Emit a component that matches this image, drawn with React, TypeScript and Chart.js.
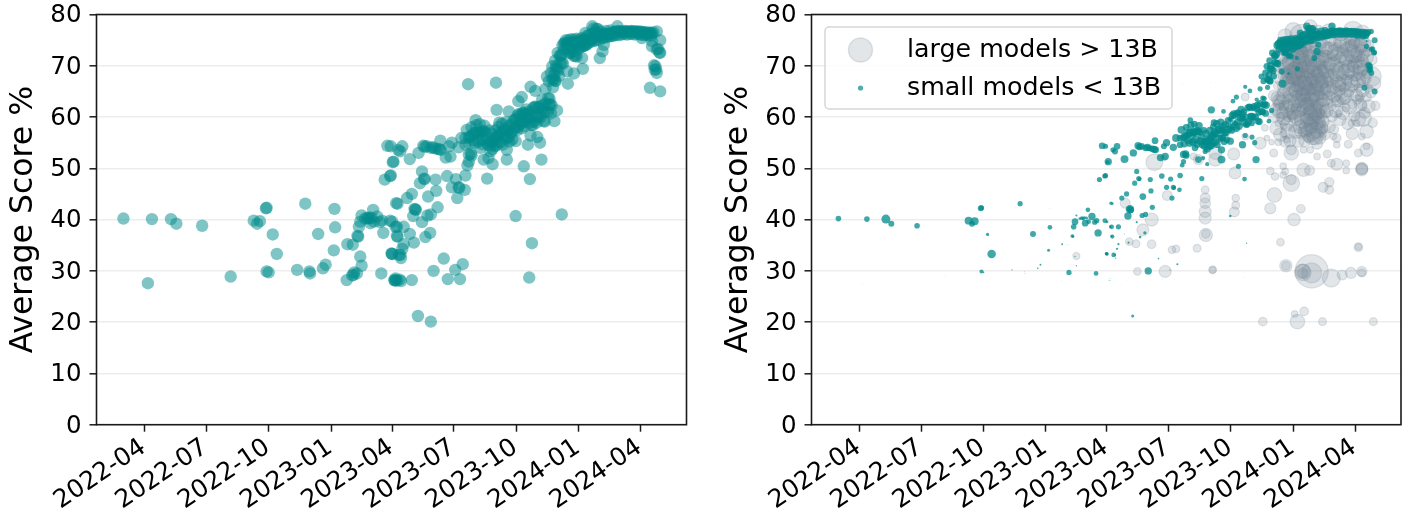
import React, { useEffect, useRef } from "react";
import { Chart, registerables } from "chart.js";

Chart.register(...registerables);

// Rows are [days since 2022-01-01, average score %, parameters in billions]
const earlyModels = [
  [59,40.2,3.5],[101,40.1,3.5],[129,40.1,9],[137,39.2,4],[175,38.8,3.5],[95,27.6,.03],[217,28.9,.03],[251,39.8,7],[260,39.7,7],[256,39.2,4],
  [269,42.2,4],[270,42.3,3],[279,37.1,1.2],[285,33.3,8],[270,29.9,1.8],[273,29.7,.3],[315,30.2,.2],[333,29.9,.05],[334,29.5,.05],[327,43.1,3],
  [370,42.1,.03],[371,38.5,2.5],[346,37.2,4],[369,34,1],[353,30.5,.3],[357,31.2,.4],[389,35.2,.4],[397,35.1,.05],[404,36.8,1.5],[405,36.7,.8],
  [408,32.8,.2],[410,31,.2],[403,29.5,.05],[398,29.2,.05],[399,29.7,3],[396,29.1,.03],[388,28.2,.03],[439,29.5,2.5],[458,28.2,.1],[459,28.1,.1],
  [460,28.5,.05],[454,33.4,1],[455,33.3,.8],[467,33.1,.5],[442,37.4,6],[462,36.8,.5],[406,38.6,3.5],[408,39.6,5],[427,41.9,2.5],[418,40.3,1.5],
  [420,40.2,1.5],[422,40.4,.8],[425,40.3,1],[415,40.2,.8],[423,39.3,5],[433,40.6,6],[428,39.6,2.5],[437,39.5,3],[440,39.8,3],[452,39.8,2.5],
  [460,38.6,.8],[461,43.2,1.2],[463,43.1,.8],[444,47.8,3],[452,48.5,3],[457,51.3,6],[456,51.2,2],[448,54.4,5],[464,53.6,3],[410,40.8,.5],
];

const rampModels = [
  [453,54.3,3],[470,54.3,5],[467,53.3,4],[481,51.8,7],[453,48.6,3],[477,44.2,3],[484,45,3],[489,42,8],[490,41.9,5],[488,42.1,3],
  [486,40.7,6],[499,39.5,.5],[512,41,3],[507,40.8,3],[522,42.4,3],[508,44.5,5],[520,45.6,3],[496,47.1,3],[499,49.4,3],[502,48,3],
  [503,47.9,2],[519,47.8,3],[536,48.5,3.5],[549,47.9,3],[563,48.6,3.5],[543,46.3,3],[553,46.3,3],[554,46.2,2],[562,45.8,2.5],[551,44.2,3],
  [455,39.6,1],[462,38.6,2.5],[472,38.6,3],[481,37.2,.1],[463,36.7,2],[504,36.6,.8],[511,37.4,1.2],[487,35.5,.6],[472,35.2,.6],[470,34.3,.6],
  [468,32.5,.2],[455,33.3,1.5],[465,33.1,2.5],[460,28.2,.02],[462,28.1,.02],[466,28.3,.02],[468,28,.02],[484,28.2,.02],[531,32.4,.3],[516,30,6],
  [559,31.3,.5],[548,30.2,.15],[537,28.4,.02],[555,28.4,.02],[493,21.2,1],[512,20.1,.02],[637,40.7,.8],[705,41,.02],[661,35.4,.2],[657,28.7,.02],
  [567,66.4,.02],[608,66.7,.02],[609,61.4,6],[578,59.4,3.5],
];

const lineModels = [
  [494,53,6],[501,54.4,6],[503,54.2,5],[506,54.3,5],[512,54,5],[515,54.1,6],[518,53.9,4],[522,53.8,5],[525,53.7,6],[527,53.6,5],
  [526,55.4,5],[534,52.1,6],[541,52.3,6],[539,54.3,4],[543,55,6],[553,54.1,6],[557,55.9,7],[563,54.6,5],[568,52.7,6],[571,52.8,6],
  [572,52.5,5],[568,51.3,3],[566,50.6,2.5],[590,51.7,5],[597,52,2],[603,50.8,2],[585,54,5],[600,53.3,3],[624,51.7,7],[624,53.6,6],
  [595,48,3],[649,50.4,3],[658,47.9,2.5],[675,51.7,6],[655,54.6,6],[673,55,3],[669,56.1,3],[659,56.4,3],[637,55.3,6],
];

const clusterModels = [
  [576,56.9,7],[578,57,7],[581,56.7,6],[583,57.1,7],[585,57,7],[588,57.3,7],[590,57.2,6],[592,57,5],[568,56,6],[570,56.2,7],
  [573,56.4,6],[563,55.9,5],[595,55.9,7],[600,55.2,6],[602,55.3,7],[605,55.5,7],[608,56,6],[610,56.2,7],[612,56.5,7],[614,57,7],
  [616,56.8,6],[620,57.5,7],[622,57.6,7],[625,57.3,6],[629,56.9,5],[631,57,6],[624,55.9,6],[626,56,5],[612,58.1,5],[627,61.1,2.5],
  [636,59.5,2],[638,59.6,3],[643,58.8,3],[645,58.7,2.5],[647,60.8,5],[649,60.9,4],[651,60.6,3],[652,59.8,6],[654,59.9,5],[656,59.7,4],
  [663,61.8,6],[666,61.9,5],[667,60.2,5],[669,60.1,6],[671,60,5],[660,58.5,4],[662,58.4,3],[678,59.2,5],[680,59.1,5],[694,59.2,2.5],
  [698,61.3,3],[686,62.4,5],[688,62.5,5],[690,62.3,6],[685,63.7,3],[687,63.6,3],[676,63.4,2],[681,65.5,3],[666,65.1,2.5],[659,65.9,2],
  [646,63.9,3],[641,63.1,2.5],[683,67.9,4],[691,67.4,5],[693,67.3,5],[695,67.1,6],[691,69.9,5],[696,69.4,6],[698,69.3,6],[700,69.1,6],
  [703,70.6,6],[705,70.5,5],[707,70.4,6],[702,72,5],[703,71.9,6],[705,72.2,6],[713,68.9,4],[723,68.5,1],[714,66.5,7],[736,69.4,3],[696,67,5],
];

const clusterSpread = [
  [565,57.5,7],[569,54.8,6],[572,58,5],[575,55.5,7],[577,54.9,6],[579,58.4,6],[582,55.2,7],[584,58.6,5],[586,55.6,7],[588,54.7,6],
  [591,58.3,6],[593,55.3,7],[596,54.6,6],[598,57.4,5],[599,54.4,7],[601,56.8,6],[603,53.8,6],[606,54.3,7],[607,57.4,6],[609,54.5,7],
  [611,55,7],[613,58.9,5],[615,55.1,6],[617,58.7,6],[618,54.6,5],[621,55.8,7],[623,59,6],[627,58.2,6],[628,55.2,5],[630,58.5,6],
  [632,55.6,5],[634,59.3,6],[635,57.6,6],[637,58,5],[639,57.4,5],[640,60.3,6],[641,58.2,5],[642,60.6,6],[644,60.3,5],[646,57.8,6],
  [648,59,6],[650,58.2,6],[653,61.5,6],[655,60.6,5],[657,61,5],[658,58.9,6],[661,60,5],[664,59.1,6],[665,62,5],[668,58.9,6],
  [670,61.8,5],[672,62,6],[674,60,6],[676,61.6,5],[677,62.3,6],[679,60.9,5],[681,62.6,6],[683,61.1,6],[685,61,5],[689,60.7,5],
  [695,71,5],[697,70,6],[699,72.5,5],[701,68,5],[689,68.6,5],[686,67,4],[692,65.8,3],[694,68.2,5],
];

const plateauModels = [
  [708,74.3,6],[710,74.5,6],[712,74.2,5],[714,74.3,6],[716,74.4,6],[718,74.5,5],[720,74.5,6],[722,74.4,6],[724,74.6,5],[726,74.5,6],
  [728,74.5,5],[730,74.6,6],[732,74.4,5],[716,72.5,3],[718,72.4,4],[720,72.6,4],[723,71.9,4],[725,72,4],[727,71.8,3],[735,71.5,2],
  [735,73.8,4],[737,73.8,5],[739,74,6],[741,74.1,5],[744,75,6],[746,75.1,6],[748,75,5],[750,75.2,6],[747,74.6,5],[740,76.4,5],
  [750,77.7,6],[752,77.3,5],[756,77.2,7],[758,77.2,7],[753,75.8,6],[755,75.8,7],[757,75.9,6],[759,75.7,5],[761,76,6],[767,74.1,4],
  [765,72.8,6],[761,71.5,4],[764,76,6],[766,76.1,6],[768,76.2,6],[770,76.1,5],[772,76.1,6],[774,76.2,5],[776,76.3,6],[778,76.2,5],
  [780,76.5,6],[782,76.5,6],[784,76.6,5],[786,76.7,6],[787,77.7,6],[788,76.8,5],[790,76.6,6],[792,76.7,5],[794,76.7,6],[796,76.6,5],
  [798,76.8,6],[800,76.7,5],[802,76.7,6],[804,76.6,6],[806,76.7,5],[808,76.8,6],[810,76.7,5],[812,76.6,6],[814,76.7,5],[816,76.7,6],
  [818,76.5,5],[820,76.7,6],[822,76.6,5],[824,76.5,6],[826,76.6,6],[828,76.4,5],[830,76.5,6],[832,76.3,5],[834,76.5,6],[836,76.4,5],
  [838,76.3,5],[840,76.5,5],[845,76.7,3],[823,75.4,.5],[838,74.8,.5],[850,75,4],[838,73.8,3],[845,73.2,3],[847,73.3,3],[849,72.6,4],
  [850,72.5,2],[841,70.1,5],[843,69.9,4],[842,69.2,4],[844,69.3,3],[845,68.6,4],[835,65.7,4],[850,65,4],
];

const plateauSpread = [
  [706,74,6],[709,73.2,6],[711,75,5],[713,73.5,6],[715,75,6],[717,73.2,6],[719,75.2,5],[721,73.4,6],[723,75.1,6],[725,73.6,6],
  [727,75.3,5],[729,73.2,6],[731,75,5],[733,73.7,6],[734,75.4,5],[736,74.9,5],[738,75.3,6],[740,75,6],[742,75.8,6],[743,74.3,5],
  [745,76,6],[749,76.2,6],[751,74.8,5],[754,76.6,6],[756,74.9,5],[758,76.4,6],[760,75,5],[763,76.7,6],[765,75.4,5],[768,75.5,5],
  [771,76.8,5],[773,75.6,5],[775,75.8,6],[777,76.9,5],[779,75.8,5],[781,75.9,6],[785,76,5],[789,76,5],[793,76.1,5],[797,76.2,6],
  [801,76.1,5],[805,76.2,5],[809,76.2,6],[813,76.1,5],[817,76.2,6],[821,76.1,5],[825,76,6],[829,76,5],[833,75.9,6],[837,75.9,5],
];

const largeOutliers = [
  [410,32.9,8],[525,51.2,45],[544,44.7,16],[482,43.2,16],[521,40,28],[508,38,23],[488,35.7,9],[498,35.3,10],[521,35.2,12],[551,34.1,9],
  [557,34.3,9],[588,34.4,10],[500,29.9,9],[541,29.9,23],[600,45.8,10],[600,44.2,16],[600,43.2,18],[600,41.6,23],[600,40.3,23],[601,37,28],
  [601,37.2,12],[611,30.2,10],[611,30.2,7],[642,52.8,23],[644,49.1,23],[645,44.2,9],[645,42.8,10],[643,41.5,16],[615,51.7,28],[615,53,28],
  [583,52.3,7],[590,51.7,16],[539,52,5],[702,44.8,34],[696,42.2,20],[731,40,25],[741,42.1,12],[711,35.6,9],[719,31,25],[719,31,12],
  [744,29.9,34],[744,29.6,16],[744,29.7,44],[757,29.9,178],[757,29.6,64],[786,28.6,52],[802,29.2,16],[815,29.6,20],[831,29.9,16],[831,29.6,10],
  [826,34.6,12],[826,34.7,7],[685,20.1,12],[732,21.6,7],[746,22.1,12],[736,20.1,34],[773,20.1,10],[848,20.1,10],
  [701,53,10],[696,49.5,9],[703,48.4,9],[715,50.4,7],[715,48.7,7],[727,47.1,44],[727,47.8,16],[718,49.4,7],[745,49.7,28],[754,49.6,16],
  [765,52.3,7],[780,52.8,10],[786,51,10],[774,46.3,16],[783,47.3,14],[783,45.8,12],[799,59.5,23],[804,64,44],[796,63.1,20],[794,63,20],
  [831,49.9,23],[831,50,23],[831,49.7,23],[808,49.6,7],[808,51,7],[794,50.8,23],[811,54.7,10],[826,53,10],[838,53.6,28],[838,54.3,7],
  [816,58.8,7],[833,59.8,44],[823,58.8,7],[831,56.2,7],[794,55.9,12],[789,56.2,7],[794,54.6,7],[851,62.2,14],[845,67.9,64],[828,63.7,10],
  [828,64,14],[774,61.3,10],[774,56.6,7],[755,56.2,10],[755,53.6,7],[745,53.6,7],[727,53,34],[727,53.6,16],[720,55.6,7],[715,56.6,7],
  [708,58.8,7],[716,58.2,7],[688,57.9,7],[691,55.9,5],[681,54.9,23],[698,55.1,5],[708,55.1,7],[659,63.9,10],[661,58.5,5],[659,56.2,7],[642,57.5,5],
];

const largeBlobModels = [
  [742,75.8,88],[818,76.7,64],[755,77.7,28],[708,73,16],[718,75.8,34],[730,76.8,44],[766,76.5,34],[782,76.9,28],[800,76.1,28],[832,76.5,34],
  [701,64.2,18],[704,61.5,23],[707,66.1,12],[709,63.2,28],[711,60,14],[713,70.3,16],[715,64.8,20],[716,62.2,18],[718,68.2,34],[719,59.3,12],
  [721,73,18],[722,66.8,28],[723,62.5,16],[725,70.8,38],[726,64.1,28],[727,60.4,14],[728,67.5,20],[729,57.9,10],[731,72.4,28],[732,69.1,44],
  [733,65.2,28],[734,61.8,14],[735,74.2,34],[736,67.1,20],[737,63.2,34],[738,59.2,12],[739,70.2,34],[740,65.9,20],[741,72.7,28],[742,61.2,18],
  [743,68.4,28],[744,64.3,34],[745,57.2,16],[746,70.9,20],[747,66.6,34],[748,73.9,28],[749,62.7,20],[750,59.4,28],[751,68.9,34],[752,55.9,14],
  [753,65.4,28],[754,71.8,34],[755,61.1,28],[756,58.3,34],[757,67.4,20],[758,63.6,28],[759,74.6,18],[760,69.7,44],[761,57.4,44],[762,60.4,28],
  [763,65.8,34],[764,72.9,20],[765,62.2,20],[766,68.1,28],[767,58.8,34],[768,70.9,28],[769,64.4,18],[770,60.6,14],[771,66.7,28],[772,74.5,20],
  [773,69.1,20],[774,63.2,28],[775,57.7,12],[776,71.8,28],[777,65.5,20],[778,60.8,14],[779,68.2,34],[780,73.4,28],[781,62.8,16],[782,66.9,20],
  [783,70.3,28],[784,64.2,14],[785,74.9,20],[786,68.4,20],[787,62.1,12],[788,72,20],[789,65.9,28],[790,69.6,14],[791,74.2,28],[792,63.8,14],
  [793,71.2,16],[794,67,28],[795,73.7,12],[796,60.7,7],[797,69.8,14],[798,65.1,20],[799,74.6,28],[800,71.7,20],[801,67.9,16],[802,63.2,10],
  [803,73,20],[804,69.2,16],[805,65.7,14],[806,75,14],[807,71.4,28],[808,61.8,10],[809,67.3,20],[810,73.7,14],[811,69.9,28],[812,64.6,14],
  [813,75.1,20],[814,71.3,12],[815,67,28],[816,73.9,28],[817,62.5,14],[818,69.9,20],[819,65.6,12],[820,74.4,20],[821,72,34],[822,67.9,14],
  [823,70.5,20],[824,63.4,14],[825,74.9,34],[826,65.7,10],[827,71.9,20],[828,68.7,28],[829,73.8,34],[830,66.6,12],[831,71,28],[832,62.2,14],
  [833,69.4,20],[834,74.8,14],[835,72.5,20],[836,67.4,14],[837,70.4,12],[838,63.9,14],[839,68.5,16],[840,72.8,14],[841,65.6,10],[842,74.1,12],
];

const largeCoreModels = [
  [712,72,44],[714,67.8,52],[716,64,40],[717,70,50],[719,73.5,44],[720,66,52],[721,61.6,40],[722,69.6,58],[724,72.8,50],[725,67.4,58],
  [726,62.7,50],[727,70.5,52],[728,74.3,44],[729,65,60],[730,61,40],[731,68.8,58],[733,71.6,58],[734,66.9,60],[735,63.4,50],[736,73.5,50],
  [737,69.4,58],[738,65.2,60],[739,61.7,44],[740,72.2,58],[741,67.7,64],[742,64,50],[743,70.5,58],[744,73.8,44],[745,66.2,60],[746,62.7,52],
  [747,68.9,64],[748,71.8,58],[749,65.1,60],[750,63.1,50],[751,70.2,58],[752,73.6,44],[753,67.2,64],[754,60.2,50],[755,64.4,60],[756,69.5,58],
  [757,72.7,52],[758,66.1,58],[759,61.7,52],[760,68.2,60],[761,71,58],[762,64.8,58],[763,59.3,52],[764,67.4,58],[765,69.6,58],[766,73.6,44],
  [767,63.4,52],[768,66,58],[769,71.1,52],[770,68.5,50],[771,62.2,40],[772,65.1,50],[773,70.8,52],[774,67.2,44],[775,73.4,44],[776,63.7,40],
  [778,69.3,44],[780,71.4,44],[782,65.5,40],[784,73,44],[786,67.6,40],[788,70,50],[790,64.5,36],[792,72.6,44],[794,68.6,44],[796,65.7,40],
  [798,72.1,44],[800,69.1,50],[802,74.1,40],[804,66.7,44],[806,71.6,50],[808,68.8,44],[810,65.4,36],[812,73.2,44],[814,69.4,50],[816,66.6,40],
  [818,72.3,52],[820,68.6,44],[822,73.5,50],[824,70.1,52],[826,67.2,36],[828,72.4,50],[830,69.6,44],[832,74.3,44],[834,67.6,36],[836,71.7,44],
  [744,59.3,40],[748,57.5,36],[752,58.2,52],[755,57,58],[757,59.7,52],[758,56.2,44],[760,58.7,58],[762,56.2,44],[764,61,44],[766,57.5,40],
  [768,60.2,36],[771,58,30],[707,63.7,30],[710,61.2,36],[713,62.8,36],[716,59.7,28],[720,58.6,28],[724,60.4,30],[732,60.2,30],[736,59.9,36],
  [740,58.1,30],[748,61.9,44],[753,62.2,50],[758,60.9,50],[769,66.7,50],[761,63.6,58],[727,68.3,58],[733,68.2,64],[738,72.4,58],[743,66.2,64],
];

const largeFringeModels = [
  [702,60.2,24],[705,57.8,28],[708,62.4,20],[711,56.6,30],[714,60.8,24],[718,55.2,20],[722,57.2,34],[725,55.4,24],[729,60.8,20],[733,57.1,30],
  [737,55.3,24],[741,56.9,20],[747,55.4,24],[765,54.8,20],[769,55.9,24],[773,59.2,28],[776,56.6,20],[779,61.3,30],[783,58.1,24],[787,60.2,20],
  [790,57.6,14],[793,61.2,30],[797,66.4,34],[803,60.8,28],[806,63.6,18],[810,58.6,20],[813,62.1,36],[817,56.8,24],[820,60.3,20],[823,64.3,24],
  [826,59.6,34],[829,62.4,24],[832,65.2,28],[835,60.8,20],[838,57.2,30],[841,62.1,28],[844,64.8,20],[847,58.9,14],[849,66.6,30],[846,71.2,18],
];

const smallModels = [...earlyModels, ...rampModels, ...lineModels, ...clusterModels, ...clusterSpread, ...plateauModels, ...plateauSpread];
const largeModels = [...largeOutliers, ...largeBlobModels, ...largeCoreModels, ...largeFringeModels];

const tickDays = [90, 181, 273, 365, 455, 546, 638, 730, 821];
const tickLabels = ["2022-04", "2022-07", "2022-10", "2023-01", "2023-04", "2023-07", "2023-10", "2024-01", "2024-04"];
const yTicks = [0, 10, 20, 30, 40, 50, 60, 70, 80];
const yLabel = "Average Score %";
const legendLabels = ["large models > 13B", "small models < 13B"];

const TEAL = "0,139,139";
const GRAY = "112,128,144";
const FONT = "'DejaVu Sans'";

const largeRadius = (params: number) => 1.25 * Math.sqrt(params);
const smallRadius = (params: number) => 1.5 * Math.sqrt(params);

const toPoints = (rows: number[][]) => rows.map((r) => ({ x: r[0], y: r[1] }));

const frame = {
  id: "frame",
  afterDatasetsDraw(chart: any) {
    const { ctx, chartArea: a } = chart;
    ctx.save();
    ctx.strokeStyle = "#1a1a1a";
    ctx.lineWidth = 1.6;
    ctx.strokeRect(a.left, a.top, a.right - a.left, a.bottom - a.top);
    ctx.restore();
  },
};

const insideLegend = {
  id: "insideLegend",
  afterDraw(chart: any) {
    const { ctx, chartArea: a } = chart;
    const x = a.left + 13.5;
    const y = a.top + 12.5;
    const w = 347;
    const h = 82;
    ctx.save();
    ctx.beginPath();
    ctx.roundRect(x, y, w, h, 4);
    ctx.fillStyle = "rgba(255,255,255,0.8)";
    ctx.fill();
    ctx.strokeStyle = "rgba(204,204,204,0.8)";
    ctx.lineWidth = 1.5;
    ctx.stroke();
    ctx.beginPath();
    ctx.arc(x + 35.5, y + 23, 12, 0, Math.PI * 2);
    ctx.fillStyle = `rgba(${GRAY},0.2)`;
    ctx.fill();
    ctx.strokeStyle = `rgba(${GRAY},0.2)`;
    ctx.lineWidth = 1.5;
    ctx.stroke();
    ctx.beginPath();
    ctx.arc(x + 35.5, y + 61, 2.6, 0, Math.PI * 2);
    ctx.fillStyle = `rgba(${TEAL},0.7)`;
    ctx.fill();
    ctx.fillStyle = "#000";
    ctx.font = `25.3px ${FONT}`;
    ctx.textBaseline = "middle";
    ctx.textAlign = "left";
    ctx.fillText(legendLabels[0], x + 82, y + 23.5);
    ctx.fillText(legendLabels[1], x + 82, y + 61.5);
    ctx.restore();
  },
};

function baseOptions(axisWidth: number, titlePad: number, rightPad: number) {
  return {
    responsive: false,
    animation: false as const,
    events: [],
    layout: { autoPadding: false, padding: { top: 14.5, right: rightPad, bottom: 0, left: 0 } },
    plugins: { legend: { display: false }, tooltip: { enabled: false }, title: { display: false } },
    scales: {
      x: {
        type: "linear" as const,
        min: 19.3,
        max: 888.8,
        afterBuildTicks: (s: any) => {
          s.ticks = tickDays.map((v) => ({ value: v }));
        },
        afterFit: (s: any) => {
          s.height = 92.3;
          s.paddingLeft = 0;
          s.paddingRight = 0;
        },
        grid: { drawOnChartArea: false, drawTicks: true, tickLength: 7, tickColor: "#1a1a1a", tickWidth: 1.5 },
        border: { display: false },
        ticks: {
          color: "#000",
          font: { family: FONT, size: 25 },
          minRotation: 34,
          maxRotation: 34,
          autoSkip: false,
          padding: 1,
          labelOffset: -1,
          callback: (v: number) => tickLabels[tickDays.indexOf(v)],
        },
      },
      y: {
        type: "linear" as const,
        min: 0,
        max: 80,
        afterBuildTicks: (s: any) => {
          s.ticks = yTicks.map((v) => ({ value: v }));
        },
        afterFit: (s: any) => {
          s.width = axisWidth;
          s.paddingTop = 0;
          s.paddingBottom = 0;
        },
        grid: { color: "rgba(0,0,0,0.07)", lineWidth: 1.6, tickLength: 7, tickColor: "#1a1a1a", tickWidth: 1.5 },
        border: { display: false },
        title: {
          display: true,
          text: yLabel,
          color: "#000",
          font: { family: FONT, size: 31.5 },
          padding: { top: titlePad, bottom: 0 },
        },
        ticks: { color: "#000", font: { family: FONT, size: 24.5 }, padding: 8, labelOffset: 1.5, autoSkip: false },
      },
    },
  };
}

export default function App() {
  const leftRef = useRef<HTMLCanvasElement>(null);
  const rightRef = useRef<HTMLCanvasElement>(null);

  useEffect(() => {
    const left = new Chart(leftRef.current!, {
      type: "scatter",
      data: {
        datasets: [
          {
            label: "models",
            data: toPoints(smallModels),
            backgroundColor: `rgba(${TEAL},0.5)`,
            borderWidth: 0,
            pointRadius: 6.2,
          },
        ],
      },
      options: baseOptions(96.5, 5, 17.5) as any,
      plugins: [frame],
    });
    const right = new Chart(rightRef.current!, {
      type: "scatter",
      data: {
        datasets: [
          {
            label: legendLabels[1],
            data: toPoints(smallModels),
            backgroundColor: `rgba(${TEAL},0.75)`,
            borderWidth: 0,
            pointRadius: smallModels.map((r) => smallRadius(r[2])),
          },
          {
            label: legendLabels[0],
            data: toPoints(largeModels),
            backgroundColor: `rgba(${GRAY},0.2)`,
            borderColor: `rgba(${GRAY},0.2)`,
            borderWidth: 1.2,
            pointRadius: largeModels.map((r) => largeRadius(r[2])),
          },
        ],
      },
      options: baseOptions(107.5, 15.5, 7) as any,
      plugins: [frame, insideLegend],
    });
    return () => {
      left.destroy();
      right.destroy();
    };
  }, []);

  const canvasStyle = { position: "absolute" as const, top: 0, display: "block", width: 704, height: 517 };
  return (
    <div style={{ position: "fixed", left: 0, top: 0, width: 1408, height: 517, background: "#fff" }}>
      <canvas ref={leftRef} width={704} height={517} style={{ ...canvasStyle, left: 0 }} />
      <canvas ref={rightRef} width={704} height={517} style={{ ...canvasStyle, left: 704 }} />
    </div>
  );
}
